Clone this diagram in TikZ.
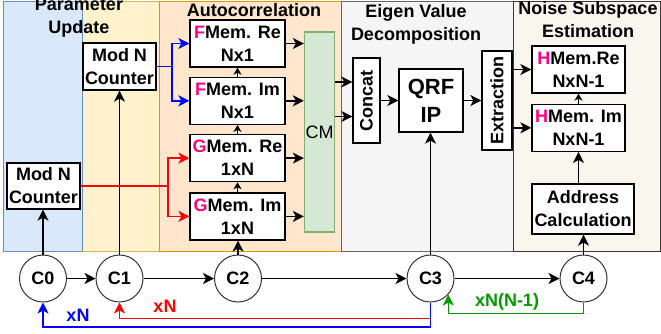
\documentclass[tikz,border=0pt]{standalone}
\usepackage{fontspec}
\setmainfont{Liberation Sans}
\usepackage{graphicx}
\usepackage{xcolor}
\usetikzlibrary{arrows.meta,positioning,calc}

\definecolor{paramfill}{HTML}{DAE8FC}
\definecolor{paramline}{HTML}{6C8EBF}
\definecolor{updfill}{HTML}{FFF2CC}
\definecolor{updline}{HTML}{D6B656}
\definecolor{acfill}{HTML}{FFE6CC}
\definecolor{acline}{HTML}{D79B00}
\definecolor{evdfill}{HTML}{F5F5F5}
\definecolor{evdline}{HTML}{666666}
\definecolor{nsefill}{HTML}{F9F7ED}
\definecolor{nseline}{HTML}{36393D}
\definecolor{cmfill}{HTML}{D5E8D4}
\definecolor{cmline}{HTML}{82B366}
\definecolor{tagpink}{HTML}{FF0080}
\definecolor{loopblue}{HTML}{0000FF}
\definecolor{loopred}{HTML}{FF0000}
\definecolor{loopgreen}{HTML}{009900}

\newcommand{\tagch}[1]{\textcolor{tagpink}{#1}}

\begin{document}
\begin{tikzpicture}[
    x=1pt, y=-1pt,
    font=\fontsize{18}{23}\selectfont\bfseries,
    panel/.style={line width=1pt},
    title/.style={align=center, inner sep=0pt},
    box/.style={rectangle, draw=black, fill=white, line width=1.3pt, inner sep=1pt, align=center},
    membox/.style={box, minimum width=95pt, minimum height=47pt},
    cnode/.style={circle, draw=black!80, fill=white, line width=1pt, minimum size=47pt, inner sep=0pt},
    arrow/.style={-{Stealth[length=11pt, width=11pt, inset=3pt]}, line width=1.4pt},
    shortarrow/.style={-{Stealth[length=7pt, width=8pt, inset=2pt]}, line width=1.4pt},
    loop/.style={line width=1.4pt}
]
    \useasboundingbox (0,0) rectangle (661,333);

    % stage panels
    \draw [panel, fill=updfill, draw=updline] (82,1) rectangle (159,251);
    \draw [panel, fill=paramfill, draw=paramline] (3,1) rectangle (82,251);
    \draw [panel, fill=acfill, draw=acline] (159,1) rectangle (341,251);
    \draw [panel, fill=evdfill, draw=evdline] (341,1) rectangle (513,251);
    \draw [panel, fill=nsefill, draw=nseline] (513,1) rectangle (660,251);

    \node [title] (t1) at (79,17.5) {Parameter\\Update};
    \node [title, anchor=base] (t2) at (254,16) {Autocorrelation};
    \node [title] (t3) at (416,24) {Eigen Value\\Decomposition};
    \node [title] (t4) at (588,20) {Noise Subspace\\Estimation};

    % blocks
    \node [box, minimum width=73pt, minimum height=46pt] (moda) at (43.5,186) {Mod N\\Counter};
    \node [box, minimum width=73pt, minimum height=47pt] (modb) at (119.5,66.5) {Mod N\\Counter};

    \node [membox] (fre) at (237.5,43.5) {\tagch{F}Mem. Re\\Nx1};
    \node [membox, below=9pt of fre] (fim) {\tagch{F}Mem. Im\\Nx1};
    \node [membox, below=9pt of fim] (gre) {\tagch{G}Mem. Re\\1xN};
    \node [membox, below=10pt of gre] (gim) {\tagch{G}Mem. Im\\1xN};

    \node [box, fill=cmfill, draw=cmline, font=\fontsize{18}{23}\selectfont, minimum width=29pt, minimum height=200pt] (cm) at (319.5,132) {CM};

    \node [box, minimum width=27pt, minimum height=85pt] (concat) at (366.5,100.5) {\rotatebox{90}{Concat}};
    \node [box, font=\fontsize{22}{28}\selectfont\bfseries, minimum width=64pt, minimum height=63pt] (qrf) at (431,100.5) {QRF\\IP};
    \node [box, minimum width=30pt, minimum height=99pt] (extr) at (497,100.5) {\rotatebox{90}{Extraction}};

    \node [box, minimum width=93pt, minimum height=47pt] (hre) at (578.5,69.5) {\tagch{H}Mem.Re\\NxN-1};
    \node [box, minimum width=93pt, minimum height=47pt, below=10pt of hre] (him) {\tagch{H}Mem. Im\\NxN-1};
    \node [box, minimum width=102pt, minimum height=50pt] (addr) at (583,209) {Address\\Calculation};

    % control states
    \node [cnode] (c0) at (43,278.5) {C0};
    \node [cnode] (c1) at (119.5,278.5) {C1};
    \node [cnode] (c2) at (238,278.5) {C2};
    \node [cnode] (c3) at (430.5,278.5) {C3};
    \node [cnode] (c4) at (583.5,278.5) {C4};

    \draw [arrow] (c0) -- (c1);
    \draw [arrow] (c1) -- (c2);
    \draw [arrow] (c2) -- (c3);
    \draw [arrow] (c3) -- (c4);

    \draw [arrow] (c0.north) -- (c0.north |- moda.south);
    \draw [arrow] (c1.north) -- (c1.north |- modb.south);
    \draw [arrow] (c2.north) -- (c2.north |- gim.south);
    \draw [arrow] (c3.north) -- (c3.north |- qrf.south);
    \draw [arrow] (c4.north) -- (c4.north |- addr.south);

    % loop counts
    \draw [loop, draw=loopred, arrow] (c3.south) -- ++(0,16) -| (c1.south);
    \draw [loop, draw=loopblue, arrow] (c3.south) -- ++(0,24.5) -| (c0.south);
    \draw [loop, draw=loopgreen, arrow] (c4.south) -- ++(0,11) -| (c3.-42);
    \node [text=loopblue, inner sep=0pt] (nb) at (78,315) {xN};
    \node [text=loopred, inner sep=0pt] (nr) at (165,306) {xN};
    \node [text=loopgreen, inner sep=0pt] (ng) at (507,302) {xN(N-1)};

    % counter fan-out
    \coordinate (jb) at (172,66.5);
    \coordinate (jr) at (168,186);
    \draw [loop, draw=loopblue] (modb.east) -- (jb);
    \draw [arrow, draw=loopblue] (jb) |- (fre.west);
    \draw [arrow, draw=loopblue] (jb) |- (fim.west);
    \draw [loop, draw=loopred] (moda.east) -- (jr);
    \draw [arrow, draw=loopred] (jr) |- (gre.west);
    \draw [arrow, draw=loopred] (jr) |- (gim.west);

    % memory chain
    \draw [shortarrow] (fim.north) -- (fre.south);
    \draw [shortarrow] (gre.north) -- (fim.south);
    \draw [shortarrow] (gim.north) -- (gre.south);
    \foreach \m in {fre,fim,gre,gim}
        \draw [arrow] (\m.east) -- (\m.east -| cm.west);

    \draw [arrow] ([yshift=18.5pt]concat.west -| cm.east) -- ([yshift=18.5pt]concat.west);
    \draw [arrow] ([yshift=-16pt]concat.west -| cm.east) -- ([yshift=-16pt]concat.west);
    \draw [arrow] (concat) -- (qrf);
    \draw [arrow] (qrf) -- (extr);
    \draw [arrow] (extr.east |- hre.west) -- (hre.west);
    \draw [arrow] (extr.east |- him.west) -- (him.west);
    \draw [shortarrow] (him.north) -- (hre.south);
    \draw [arrow] (him.south |- addr.north) -- (him.south);
\end{tikzpicture}
\end{document}
